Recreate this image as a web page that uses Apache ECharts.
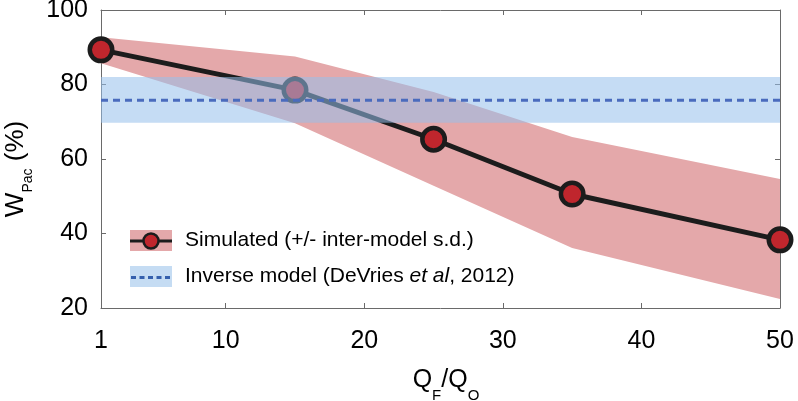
<!DOCTYPE html>
<html><head><meta charset="utf-8">
<script src="https://cdn.jsdelivr.net/npm/echarts@6/dist/echarts.min.js"></script>
<style>html,body{margin:0;padding:0;background:#fff}#c{width:798px;height:401px}</style>
</head><body><div id="c"></div>
<script>
// ---- data ----
const xValues = [1, 15, 25, 35, 50];
const simulated = [89.3, 78.5, 65.3, 50.6, 38.3];
const simUpper = [92.7, 87.5, 78.0, 65.9, 54.6];
const simLower = [85.7, 69.6, 52.8, 36.1, 22.4];
const inverseX = [1, 50];
const inverseMean = 75.8;
const inverseUpper = 82.0;
const inverseLower = 69.7;
const xLabelValues = [1, 10, 20, 30, 40, 50];
const xTickValues = [10, 20, 30, 40];
const legendNames = ['Simulated (+/- inter-model s.d.)', 'Inverse model (DeVries et al, 2012)'];

const FONT = 'Liberation Sans, Arial, Helvetica, sans-serif';
const AXIS_COLOR = '#6a6a6a';
const PINK = '#e4a8aa';
const RED = '#c0262d';
const DARK = '#1c1c1c';
const BLUE_BAND = 'rgba(150,192,235,0.55)';
const BLUE_LINE = '#4a6bbd';

const pts = (xs, ys) => xs.map((x, i) => [x, ys[i]]);
const bandRows = (xs, lo, up) => xs.map((x, i) => [x, lo[i], up[i]]);

function makeBandSeries(name, rows, color, z) {
  return {
    name: name, type: 'custom', z: z, silent: true, clip: false,
    data: rows,
    encode: {x: 0, y: [1, 2]},
    itemStyle: {color: color},
    renderItem: function (params, api) {
      if (params.dataIndex !== 0) return null;
      const upperPts = rows.map(r => api.coord([r[0], r[2]]));
      const lowerPts = rows.map(r => api.coord([r[0], r[1]])).reverse();
      return {
        type: 'polygon',
        shape: {points: upperPts.concat(lowerPts)},
        style: {fill: color}
      };
    }
  };
}

const chart = echarts.init(document.getElementById('c'), null, {renderer: 'canvas'});
const baseAxisLine = {show: true, lineStyle: {color: AXIS_COLOR, width: 1}};

chart.setOption({
  animation: false,
  backgroundColor: '#fff',
  textStyle: {fontFamily: FONT},
  grid: {left: 101, right: 18, top: 10, bottom: 93, containLabel: false, outerBoundsMode: 'none'},
  xAxis: [{
    type: 'value', min: 1, max: 50, position: 'bottom',
    axisLine: baseAxisLine,
    axisTick: {show: true, inside: true, length: 5, lineStyle: {color: AXIS_COLOR}, customValues: xTickValues},
    axisLabel: {color: '#000', fontSize: 25, fontFamily: FONT, margin: 21, customValues: xLabelValues},
    splitLine: {show: false},
    name: '{m|Q}{s|F}{m|/Q}{s|O}',
    nameLocation: 'middle', nameGap: 60,
    nameTextStyle: {
      padding: [0, 0, 0, 11],
      rich: {
        m: {fontSize: 25, lineHeight: 25, verticalAlign: 'top', color: '#000', fontFamily: FONT},
        s: {fontSize: 15, lineHeight: 15, verticalAlign: 'top', padding: [20, 0, 0, 0], color: '#000', fontFamily: FONT}
      }
    }
  }, {
    type: 'value', min: 1, max: 50, position: 'top',
    axisLine: baseAxisLine,
    axisTick: {show: true, inside: true, length: 5, lineStyle: {color: AXIS_COLOR}, customValues: xTickValues},
    axisLabel: {show: false},
    splitLine: {show: false}
  }],
  yAxis: [{
    type: 'value', min: 20, max: 100, interval: 20, position: 'left',
    axisLine: baseAxisLine,
    axisTick: {show: true, inside: true, length: 5, lineStyle: {color: AXIS_COLOR}},
    axisLabel: {color: '#000', fontSize: 25, fontFamily: FONT, margin: 13},
    splitLine: {show: false},
    name: '{m|W}{s|Pac}{m| (%)}',
    nameLocation: 'middle', nameGap: 72,
    nameTextStyle: {
      padding: [0, 20, 0, 0],
      rich: {
        m: {fontSize: 26, lineHeight: 26, verticalAlign: 'top', color: '#000', fontFamily: FONT},
        s: {fontSize: 14, lineHeight: 14, verticalAlign: 'top', padding: [19, 0, 0, 0], color: '#000', fontFamily: FONT}
      }
    }
  }, {
    type: 'value', min: 20, max: 100, interval: 20, position: 'right',
    axisLine: baseAxisLine,
    axisTick: {show: true, inside: true, length: 5, lineStyle: {color: AXIS_COLOR}},
    axisLabel: {show: false},
    splitLine: {show: false}
  }],
  legend: {
    orient: 'vertical', left: 130, top: 230, padding: 0,
    itemWidth: 42, itemHeight: 21, itemGap: 15,
    icon: 'rect',
    data: [
      {name: legendNames[0], itemStyle: {color: PINK}},
      {name: legendNames[1], itemStyle: {color: '#c5dcf3'}}
    ],
    formatter: function (name) {
      if (name.indexOf('et al') >= 0) {
        return '{n|' + name.replace('et al', '}{i|et al}{n|') + '}';
      }
      return '{n|' + name + '}';
    },
    textStyle: {
      padding: [0, 0, 0, 8],
      rich: {
        n: {fontSize: 21, lineHeight: 22, color: '#000', fontFamily: FONT},
        i: {fontSize: 21, lineHeight: 22, color: '#000', fontStyle: 'italic', fontFamily: FONT}
      }
    },
    selectedMode: false
  },
  graphic: [
    {type: 'line', z: 100, shape: {x1: 130, y1: 241, x2: 172, y2: 241}, style: {stroke: DARK, lineWidth: 3}},
    {type: 'circle', z: 101, shape: {cx: 151, cy: 241, r: 7.5}, style: {fill: RED, stroke: DARK, lineWidth: 2.5}},
    {type: 'line', z: 100, shape: {x1: 131, y1: 277.5, x2: 172, y2: 277.5}, style: {stroke: '#3560ad', lineWidth: 3, lineDash: [5, 3.5]}}
  ],
  series: [
    makeBandSeries(legendNames[0], bandRows(xValues, simLower, simUpper), PINK, 1),
    {
      name: 'Simulated', type: 'line', z: 3,
      data: pts(xValues, simulated),
      symbol: 'circle', symbolSize: 22.5, clip: false,
      lineStyle: {color: DARK, width: 5},
      itemStyle: {color: RED, borderColor: DARK, borderWidth: 4.5, opacity: 1}
    },
    makeBandSeries(legendNames[1],
      bandRows(inverseX, inverseX.map(() => inverseLower), inverseX.map(() => inverseUpper)), BLUE_BAND, 4),
    {
      name: 'Inverse mean', type: 'line', z: 5,
      data: pts(inverseX, inverseX.map(() => inverseMean)), symbol: 'none',
      lineStyle: {color: BLUE_LINE, width: 3, type: [7, 5]}, silent: true
    }
  ]
});
</script>
</body></html>
